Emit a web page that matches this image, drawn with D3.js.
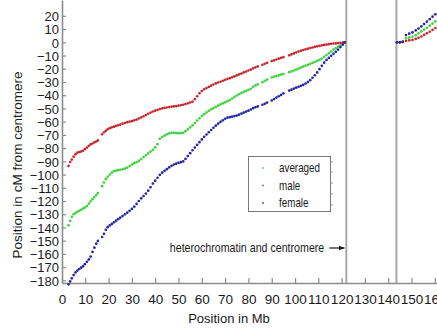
<!DOCTYPE html>
<html>
<head>
<meta charset="utf-8">
<script src="https://cdn.jsdelivr.net/npm/d3@7"></script>
<style>
  body { margin: 0; background: #fff; }
  text { font-family: "Liberation Sans", Arial, sans-serif; }
</style>
</head>
<body>
<div id="chart"></div>
<script>
// marker positions (Mb) and genetic map positions (cM) for each map
const positionMb = [
  2.8, 3.5, 4.2, 5.0, 5.8, 6.6, 7.4, 8.2, 9.0, 9.8, 10.7, 11.5, 12.3, 13.1, 13.9, 14.7, 15.4,
  17.2, 18.0, 18.8, 19.6, 20.5, 21.4, 22.3, 23.2, 24.1, 25.0, 26.0, 27.0, 28.0, 29.0, 30.0,
  31.0, 32.0, 33.0, 34.0, 35.0, 36.0, 37.0, 38.0, 39.0, 40.0, 41.0, 42.0, 43.0, 44.0, 45.0,
  46.0, 47.0, 48.0, 49.0, 50.0, 51.0, 52.0, 53.0, 54.0, 55.0, 56.0, 57.0, 58.0, 59.0, 60.0,
  61.0, 62.0, 63.0, 64.0, 65.0, 66.0, 67.0, 68.0, 69.0, 70.0, 71.0, 72.0, 73.0, 74.0, 75.0,
  76.0, 77.0, 78.0, 79.0, 80.0, 81.0, 82.0, 83.0, 84.0, 86.0, 87.0, 88.0, 90.0, 91.0, 92.0,
  93.0, 94.0, 95.0, 97.5, 98.5, 99.5, 100.5, 101.5, 102.5, 103.5, 104.5, 105.5, 106.5, 107.5,
  108.5, 109.5, 110.5, 111.5, 112.5, 113.5, 114.5, 115.5, 116.5, 117.5, 118.5, 119.5, 120.5, 121.3,
  143.8, 145.0, 146.2, 147.6, 149.0, 150.4, 151.8, 153.0, 154.2, 155.4, 156.6, 157.8, 159.0, 160.2, 161.4
]

const averaged = [
  -138.5, -135.0, -132.0, -130.0, -129.0, -128.2, -127.4, -126.6, -125.8, -125.0, -123.8, -122.0, -120.3, -118.6, -117.0, -115.5, -114.0,
  -108.8, -106.0, -103.5, -101.8, -100.0, -98.5, -97.4, -97.0, -96.7, -96.4, -96.0, -95.5, -94.8, -93.6, -92.4,
  -91.4, -90.6, -89.7, -88.3, -86.8, -85.4, -84.0, -82.6, -81.3, -79.5, -77.0, -73.0, -71.6, -70.5, -69.6,
  -68.8, -68.5, -68.4, -68.6, -68.7, -68.6, -68.4, -67.2, -65.8, -64.3, -62.8, -61.0, -59.2, -57.4, -55.7,
  -54.3, -53.0, -51.8, -50.7, -49.7, -48.8, -47.9, -47.0, -46.2, -45.4, -44.5, -43.6, -42.5, -41.3, -40.2,
  -39.2, -38.3, -37.5, -36.7, -36.0, -35.2, -33.6, -32.6, -31.8, -30.2, -29.2, -28.2, -26.6, -26.0, -25.5,
  -25.0, -24.4, -24.0, -22.6, -22.0, -21.3, -20.6, -19.9, -19.1, -18.4, -17.7, -17.0, -16.3, -15.6,
  -14.9, -14.1, -13.3, -12.3, -11.0, -9.6, -8.3, -7.0, -5.6, -4.4, -3.3, -2.2, -1.0, 0,
  0, 0, 0.3, 3.0, 3.5, 4.2, 5.4, 6.8, 8.2, 9.6, 11.0, 12.6, 14.2, 15.8, 17.4
]

const male = [
  -93.5, -90.5, -88.7, -86.5, -84.6, -83.4, -83.0, -82.6, -82.0, -80.8, -79.6, -78.3, -77.2, -76.5, -75.6, -75.0, -74.2,
  -69.5, -68.0, -66.9, -65.8, -64.9, -64.3, -63.8, -63.2, -62.7, -62.2, -61.5, -61.0, -60.4, -60.0, -59.6,
  -59.0, -58.4, -57.6, -56.8, -55.9, -55.0, -54.0, -53.1, -52.3, -51.7, -51.1, -50.5, -49.9, -49.6, -49.3,
  -49.0, -48.7, -48.5, -48.2, -47.9, -47.6, -47.2, -46.7, -46.1, -45.5, -44.9, -43.0, -40.8, -38.6, -36.9,
  -35.5, -34.6, -33.7, -32.8, -31.9, -31.1, -30.4, -29.8, -29.1, -28.4, -27.7, -27.1, -26.4, -25.7, -25.0,
  -24.3, -23.6, -22.8, -22.1, -21.3, -20.6, -19.7, -18.9, -18.2, -17.0, -16.3, -15.5, -14.2, -13.6, -13.0,
  -12.4, -11.8, -11.2, -9.8, -9.1, -8.4, -7.7, -7.0, -6.4, -5.8, -5.3, -4.8, -4.3, -3.9,
  -3.4, -3.0, -2.7, -2.3, -2.0, -1.7, -1.4, -1.1, -0.9, -0.8, -0.6, -0.4, -0.2, 0,
  0, 0, 0.2, 1.0, 1.5, 1.8, 2.6, 3.4, 4.4, 5.6, 6.8, 8.0, 9.4, 10.8, 12.2
]

const female = [
  -183.0, -180.8, -178.5, -176.0, -174.0, -172.6, -171.4, -170.4, -169.4, -167.8, -166.0, -164.2, -162.0, -158.5, -155.3, -152.3, -150.2,
  -147.2, -144.8, -141.8, -139.8, -138.5, -137.3, -136.1, -134.9, -133.7, -132.6, -131.4, -130.1, -128.8, -127.4, -126.0,
  -124.3, -122.2, -120.0, -118.0, -116.2, -114.4, -112.2, -109.6, -106.8, -104.6, -102.4, -100.2, -98.6, -97.2, -95.9,
  -94.6, -93.4, -92.4, -91.8, -91.2, -90.6, -90.0, -88.2, -86.0, -83.8, -81.6, -79.6, -77.6, -75.5, -73.4,
  -71.5, -69.7, -68.0, -66.3, -64.6, -63.0, -61.5, -60.2, -59.0, -57.8, -57.0, -56.6, -56.2, -55.8, -55.4,
  -54.7, -53.9, -53.1, -52.4, -51.7, -50.8, -49.8, -49.1, -48.5, -47.2, -46.5, -45.6, -44.0, -42.9, -41.8,
  -40.8, -39.8, -38.6, -36.5, -35.8, -35.0, -34.3, -33.6, -32.9, -32.2, -31.2, -30.1, -28.6, -26.8,
  -24.9, -22.8, -20.3, -17.8, -15.4, -13.3, -11.8, -10.2, -8.7, -7.2, -5.5, -3.6, -1.8, 0,
  0, 0, 0.5, 5.5, 6.5, 7.5, 9.0, 10.4, 12.0, 13.8, 15.6, 17.5, 19.4, 21.2, 23.0
]

const seriesNames = ["averaged", "male", "female"]
const seriesColors = ["#3fd23f", "#c42a30", "#2626a6"]

// heterochromatin / centromere gap (Mb)
const heteroBounds = [122, 143.5]
const heteroLabel = "heterochromatin and centromere"

const xTicks = [0, 10, 20, 30, 40, 50, 60, 70, 80, 90, 100, 110, 120, 130, 140, 150, 160]
const yTicks = [20, 10, 0, -10, -20, -30, -40, -50, -60, -70, -80, -90, -100, -110, -120,
  -130, -140, -150, -160, -170, -180]

const xTitle = "Position in Mb"
const yTitle = "Position in cM from centromere"

const width = 437
const height = 331
const axisColor = "#8c8c8c"
const textColor = "#1a1a1a"

let svg = d3.select("#chart").append("svg")
  .attr("width", width)
  .attr("height", height)

svg.append("defs").append("marker")
  .attr("id", "arrow")
  .attr("viewBox", "0 0 10 10")
  .attr("refX", 9)
  .attr("refY", 5)
  .attr("markerWidth", 5)
  .attr("markerHeight", 5)
  .attr("orient", "auto")
  .append("path")
    .attr("d", "M0,1 L10,5 L0,9 Z")
    .attr("fill", textColor)

let xScale = d3.scaleLinear()
  .domain([0, 165])
  .range([62, 446.5])

let yScale = d3.scaleLinear()
  .domain([-182, 32])
  .range([283, 0])

// axes, ticks pointing into the plot
let xAxis = svg.append("g")
  .attr("transform", `translate(0,${yScale(-182)})`)
  .call(d3.axisBottom(xScale).tickValues(xTicks).tickSizeInner(-5).tickSizeOuter(0).tickPadding(11))

let yAxis = svg.append("g")
  .attr("transform", `translate(${xScale(0)},0)`)
  .call(d3.axisLeft(yScale).tickValues(yTicks).tickSizeInner(-4).tickSizeOuter(0).tickPadding(3))

xAxis.select(".domain").attr("stroke", axisColor).attr("stroke-width", 1.6)
yAxis.select(".domain").attr("stroke", axisColor).attr("stroke-width", 1.6)
xAxis.selectAll(".tick line").attr("stroke", axisColor).attr("stroke-width", 1.2)
yAxis.selectAll(".tick line").attr("stroke", axisColor).attr("stroke-width", 1.2)
xAxis.selectAll(".tick text")
  .attr("fill", textColor)
  .style("font-size", "13.5px")
  .style("font-family", "'Liberation Sans', Arial, sans-serif")
yAxis.selectAll(".tick text")
  .attr("fill", textColor)
  .style("font-size", "13px")
  .style("font-family", "'Liberation Sans', Arial, sans-serif")
  .attr("dy", "0.36em")

// axis titles
svg.append("text")
  .attr("x", 229)
  .attr("y", 323)
  .attr("text-anchor", "middle")
  .attr("fill", textColor)
  .style("font-size", "13px")
  .text(xTitle)

svg.append("text")
  .attr("transform", "translate(22,165) rotate(-90)")
  .attr("text-anchor", "middle")
  .attr("fill", textColor)
  .style("font-size", "13.5px")
  .text(yTitle)

// heterochromatin boundaries
svg.selectAll("heteroLines")
  .data(heteroBounds)
  .enter()
  .append("line")
    .attr("x1", d => xScale(d))
    .attr("x2", d => xScale(d))
    .attr("y1", 0)
    .attr("y2", yScale(-182))
    .attr("stroke", "#a8a8a8")
    .attr("stroke-width", 2)

svg.append("text")
  .attr("transform", `translate(${xScale(heteroBounds[0]) - 22},252) scale(0.82,1)`)
  .attr("text-anchor", "end")
  .attr("fill", textColor)
  .style("font-size", "13px")
  .text(heteroLabel)

svg.append("line")
  .attr("x1", xScale(heteroBounds[0]) - 17)
  .attr("x2", xScale(heteroBounds[0]) - 2)
  .attr("y1", 248)
  .attr("y2", 248)
  .attr("stroke", textColor)
  .attr("stroke-width", 1.2)
  .attr("marker-end", "url(#arrow)")

// the three maps as dots
let series = [averaged, male, female]
series.forEach((vals, i) => {
  svg.append("g")
    .selectAll("circle")
    .data(positionMb)
    .enter()
    .append("circle")
      .attr("cx", d => xScale(d))
      .attr("cy", (d, j) => yScale(vals[j]))
      .attr("r", 1.35)
      .attr("fill", seriesColors[i])
})

// legend
let legend = svg.append("g")
legend.append("rect")
  .attr("x", 248.5)
  .attr("y", 156.5)
  .attr("width", 82)
  .attr("height", 55)
  .attr("fill", "#fff")
  .attr("stroke", "#777")
  .attr("stroke-width", 1)

legend.selectAll("legendTicks")
  .data([162, 172, 183, 194, 205])
  .enter()
  .append("line")
    .attr("x1", 330.5)
    .attr("x2", 333)
    .attr("y1", d => d)
    .attr("y2", d => d)
    .attr("stroke", "#999")

seriesNames.forEach((name, i) => {
  let yy = 168 + i * 17.5
  legend.append("circle")
    .attr("cx", 263)
    .attr("cy", yy)
    .attr("r", 1.1)
    .attr("fill", seriesColors[i])
    .attr("opacity", 0.7)
  legend.append("text")
    .attr("transform", `translate(279,${yy + 4}) scale(0.82,1)`)
    .attr("fill", textColor)
    .style("font-size", "12px")
    .text(name)
})
</script>
</body>
</html>
